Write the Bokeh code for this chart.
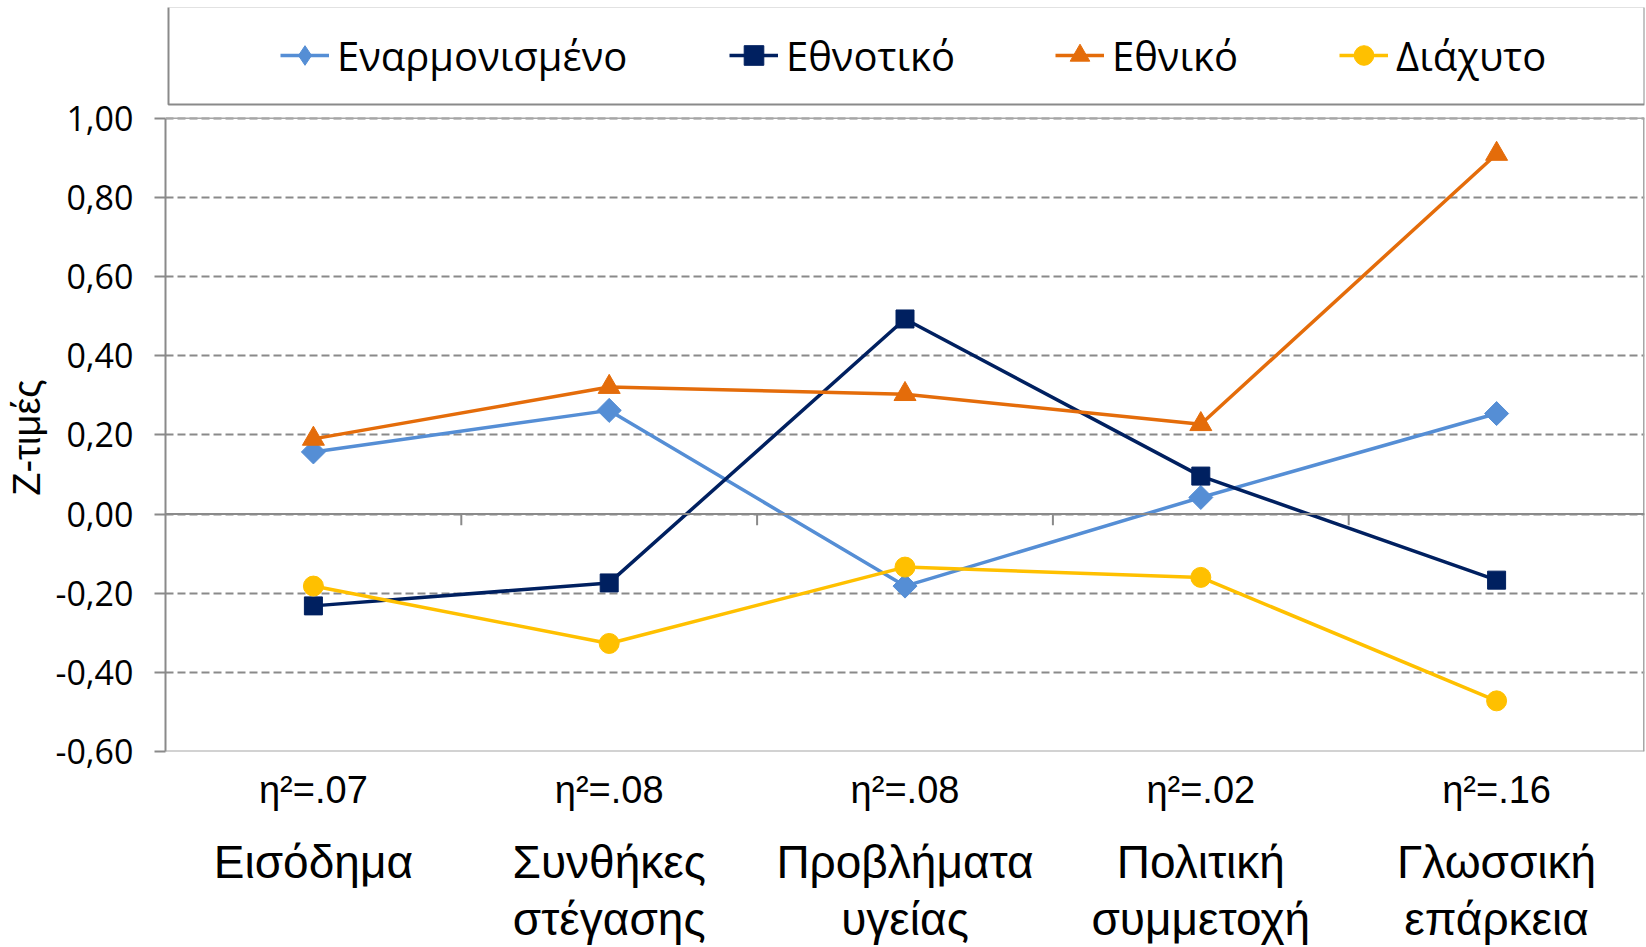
import math
import numpy as np
from bokeh.plotting import figure
from bokeh.models import (Range1d, FixedTicker, Legend, LegendItem, Span,
                          LinearAxis, Grid, BoxAnnotation)
from bokeh.embed import file_html
from bokeh.resources import INLINE

# ---------------- data ----------------
categories = ["Εισόδημα", "Συνθήκες\nστέγασης", "Προβλήματα\nυγείας",
              "Πολιτική\nσυμμετοχή", "Γλωσσική\nεπάρκεια"]
eta_squared = ["η²=.07", "η²=.08", "η²=.08", "η²=.02", "η²=.16"]
series_names = ["Εναρμονισμένο", "Εθνοτικό", "Εθνικό", "Διάχυτο"]
enarmonismeno = [0.157, 0.262, -0.182, 0.042, 0.254]
ethnotiko = [-0.232, -0.174, 0.493, 0.096, -0.167]
ethniko = [0.190, 0.321, 0.303, 0.227, 0.910]
diaxyto = [-0.182, -0.327, -0.134, -0.160, -0.472]
y_ticks = [-0.6, -0.4, -0.2, 0.0, 0.2, 0.4, 0.6, 0.8, 1.0]
y_tick_labels = ["-0,60", "-0,40", "-0,20", "0,00", "0,20", "0,40", "0,60", "0,80", "1,00"]
y_axis_title = "Z-τιμές"

# ---------------- layout / styles ----------------
series_values = [enarmonismeno, ethnotiko, ethniko, diaxyto]
colors = ["#558ED5", "#002060", "#E46C0A", "#FFC000"]
marker_styles = [dict(marker="square", size=17, angle=math.pi / 4),
                 dict(marker="square", size=18),
                 dict(marker="triangle", size=22),
                 dict(marker="circle", size=20)]
legend_markers = ["diamond", None, None, None]   # legend cannot rotate markers
GRAY = "#8A8A8A"
LIGHT = "#A6A6A6"
x = list(range(len(categories)))

H, TOP, BOTTOM = 947, 7, 195
plot_px = 634                        # pixel height of the value axis (-0.6 .. 1.0)
y_lo, y_hi = y_ticks[0], y_ticks[-1]
frame_px = H - TOP - BOTTOM          # frame also holds the legend band on top
y_top = y_lo + (y_hi - y_lo) * frame_px / plot_px

p = figure(width=1645, height=H, x_range=Range1d(-0.5, len(categories) - 0.5),
           y_range=Range1d(y_lo, y_top),
           x_axis_type=None, y_axis_type=None, output_backend="svg",
           toolbar_location=None, min_border_left=165, min_border_right=1,
           min_border_top=TOP, min_border_bottom=BOTTOM)
p.outline_line_color = None

p.add_layout(Grid(dimension=1, ticker=FixedTicker(ticks=y_ticks),
                  grid_line_color=GRAY, grid_line_width=2, grid_line_dash="8 4"))
p.add_layout(Span(location=y_hi, dimension="width", line_color=LIGHT, line_width=1.5))
p.add_layout(Span(location=y_lo, dimension="width", line_color=LIGHT, line_width=2))
p.add_layout(Span(location=0, dimension="width", line_color=GRAY, line_width=2))
p.segment(x0=[x[-1] + 0.5], y0=[y_lo], x1=[x[-1] + 0.5], y1=[y_hi],
          line_color=LIGHT, line_width=3)
bounds = [i + 0.5 for i in x[:-1]]
p.segment(x0=bounds, y0=[0] * len(bounds), x1=bounds, y1=[-0.028] * len(bounds),
          line_color=GRAY, line_width=2)

legend_renderers = []
for vals, c, ms, lm in zip(series_values, colors, marker_styles, legend_markers):
    rl = p.line(x, vals, line_color=c, line_width=3.5)
    rm = p.scatter(x, vals, color=c, **ms)
    if lm is not None:
        # legend-only proxy (no drawable data point)
        rm = p.scatter(x=np.array([np.nan]), y=np.array([np.nan]), marker=lm, color=c)
    legend_renderers.append([rl, rm])

# legend frame (screen units, relative to the plot frame's bottom-left)
p.add_layout(BoxAnnotation(left=3, right=1479, top=745, bottom=647,
                           left_units="screen", right_units="screen",
                           top_units="screen", bottom_units="screen",
                           fill_alpha=0, line_color=GRAY, line_alpha=1, line_width=2))

legend_x = [115, 564, 890, 1174]
for i, name in enumerate(series_names):
    leg = Legend(items=[LegendItem(label=name, renderers=legend_renderers[i])],
                 location=(legend_x[i], 668), orientation="horizontal",
                 padding=0, margin=0, border_line_color=None,
                 background_fill_alpha=0, glyph_width=49, glyph_height=56,
                 label_height=56, label_standoff=8,
                 label_text_font="Open Sans", label_text_font_size="40px",
                 label_text_color="black")
    p.add_layout(leg)

# the axis title is centred on the whole frame; trailing no-break spaces
# shift the visible words down to the middle of the value axis
yaxis = LinearAxis(ticker=FixedTicker(ticks=y_ticks), bounds=(y_lo, y_hi),
                   major_label_overrides={t: l for t, l in zip(y_ticks, y_tick_labels)},
                   axis_label=y_axis_title + "\u00a0" * 11,
                   axis_line_color=GRAY, axis_line_width=2,
                   major_tick_line_color=GRAY, major_tick_line_width=2,
                   major_tick_out=11, major_tick_in=0,
                   minor_tick_line_color=None,
                   major_label_text_font="Open Sans", major_label_text_font_size="34px",
                   major_label_text_color="black", major_label_standoff=21,
                   axis_label_text_font="Liberation Sans", axis_label_text_font_size="38px",
                   axis_label_text_font_style="normal", axis_label_text_color="black",
                   axis_label_standoff=4)
p.add_layout(yaxis, "left")

eta_axis = LinearAxis(ticker=FixedTicker(ticks=x),
                      major_label_overrides={i: s for i, s in zip(x, eta_squared)},
                      axis_line_color=None, major_tick_line_color=None,
                      minor_tick_line_color=None, major_tick_out=0, major_tick_in=0,
                      major_label_text_font="Liberation Sans", major_label_text_font_size="38px",
                      major_label_text_color="black", major_label_standoff=17)
cat_axis = LinearAxis(ticker=FixedTicker(ticks=x),
                      major_label_overrides={i: s for i, s in zip(x, categories)},
                      axis_line_color=None, major_tick_line_color=None,
                      minor_tick_line_color=None, major_tick_out=0, major_tick_in=0,
                      major_label_text_font="Liberation Sans", major_label_text_font_size="46px",
                      major_label_text_color="black", major_label_standoff=22,
                      major_label_text_line_height=1.1)
p.add_layout(eta_axis, "below")
p.add_layout(cat_axis, "below")

open("out.html", "w", encoding="utf-8").write(file_html(p, INLINE))
